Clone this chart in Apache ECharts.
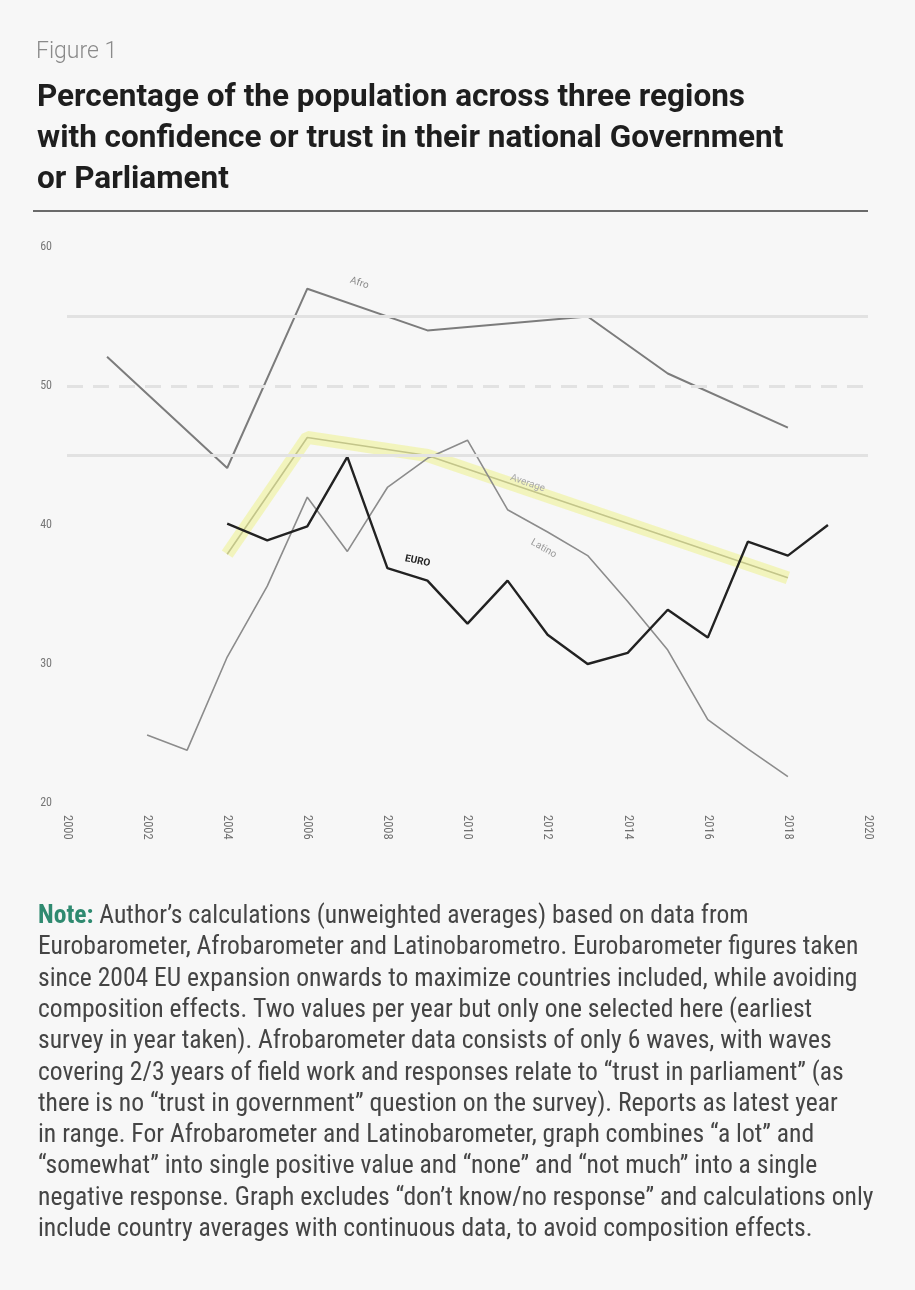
<!DOCTYPE html>
<html>
<head>
<meta charset="utf-8">
<script src="https://cdn.jsdelivr.net/npm/echarts@6/dist/echarts.min.js"></script>
<style>
html,body{margin:0;padding:0;background:#f7f7f7;}
#c{width:915px;height:1290px;}
</style>
</head>
<body>
<div id="c"></div>
<script>
// ---- data ----
const afroYears   = [2001, 2004, 2006, 2009, 2013, 2015, 2018];
const afroValues  = [52.1, 44.1, 57.0, 54.0, 55.0, 50.9, 47.0];

const euroYears   = [2004, 2005, 2006, 2007, 2008, 2009, 2010, 2011, 2012, 2013, 2014, 2015, 2016, 2017, 2018, 2019];
const euroValues  = [40.1, 38.9, 39.9, 44.9, 36.9, 36.0, 32.9, 36.0, 32.1, 30.0, 30.8, 33.9, 31.9, 38.8, 37.8, 40.0];

const latinoYears  = [2002, 2003, 2004, 2005, 2006, 2007, 2008, 2009, 2010, 2011, 2012, 2013, 2014, 2015, 2016, 2017, 2018];
const latinoValues = [24.9, 23.8, 30.5, 35.6, 42.0, 38.1, 42.7, 44.8, 46.1, 41.1, 39.5, 37.8, 34.5, 31.0, 26.0, 23.9, 21.9];

const avgYears  = [2004, 2006, 2009, 2018];
const avgValues = [37.9, 46.3, 45.0, 36.2];

const yTicks = [20, 30, 40, 50, 60];
const xTicks = [2000, 2002, 2004, 2006, 2008, 2010, 2012, 2014, 2016, 2018, 2020];

const titleLines = [
  'Percentage of the population across three regions',
  'with confidence or trust in their national Government',
  'or Parliament'
];
const noteLines = [
  'Author\u2019s calculations (unweighted averages) based on data from',
  'Eurobarometer, Afrobarometer and Latinobarometro. Eurobarometer figures taken',
  'since 2004 EU expansion onwards to maximize countries included, while avoiding',
  'composition effects. Two values per year but only one selected here (earliest',
  'survey in year taken). Afrobarometer data consists of only 6 waves, with waves',
  'covering 2/3 years of field work and responses relate to \u201ctrust in parliament\u201d (as',
  'there is no \u201ctrust in government\u201d question on the survey). Reports as latest year',
  'in range. For Afrobarometer and Latinobarometer, graph combines \u201ca lot\u201d and',
  '\u201csomewhat\u201d into single positive value and \u201cnone\u201d and \u201cnot much\u201d into a single',
  'negative response. Graph excludes \u201cdon\u2019t know/no response\u201d and calculations only',
  'include country averages with continuous data, to avoid composition effects.'
];

const pairs = (xs, ys) => xs.map((x, i) => [x, ys[i]]);
const NARROW = "'Liberation Sans Narrow', 'Roboto Condensed', 'Arial Narrow', Roboto, sans-serif";

const chart = echarts.init(document.getElementById('c'), null, {renderer: 'canvas'});

function lbl(coord, text, rot, color, weight, size) {
  return {
    coord: coord, symbol: 'circle', symbolSize: 0,
    label: {show: true, formatter: text, rotate: rot, color: color, fontWeight: weight,
            fontSize: size, fontFamily: 'Roboto, sans-serif', position: 'inside'}
  };
}

chart.setOption({
  backgroundColor: '#f7f7f7',
  animation: false,
  title: [
    {text: 'Figure 1', left: 31, top: 36,
     textStyle: {fontFamily: 'Roboto, sans-serif', fontWeight: 300, fontSize: 23, color: '#8a8a8a'}},
    {text: titleLines.join('\n'), left: 32, top: 73,
     textStyle: {fontFamily: 'Roboto, sans-serif', fontWeight: 'bold', fontSize: 31.5, lineHeight: 41, color: '#1e1e1e'}},
    {text: '{n|Note:} ' + noteLines.join('\n'), left: 33, top: 896,
     textStyle: {fontFamily: NARROW, fontWeight: 'normal', fontSize: 25.6, lineHeight: 31.3, color: '#454545',
       rich: {n: {fontFamily: NARROW, fontWeight: 'bold', fontSize: 25.6, lineHeight: 31.3, color: '#2f8a70'}}}}
  ],
  graphic: [
    {type: 'line', shape: {x1: 33, y1: 211, x2: 868, y2: 211}, style: {stroke: '#6a6a6a', lineWidth: 2}}
  ],
  grid: {left: 67, right: 47, top: 247, bottom: 487},
  xAxis: {
    type: 'value', min: 2000, max: 2020, interval: 2,
    axisLine: {show: false}, axisTick: {show: false}, splitLine: {show: false},
    axisLabel: {rotate: -90, margin: 12, fontSize: 12.5, color: '#6f6f6f', fontFamily: NARROW,
      customValues: xTicks, formatter: v => String(v)}
  },
  yAxis: {
    type: 'value', min: 20, max: 60, interval: 10,
    axisLine: {show: false}, axisTick: {show: false}, splitLine: {show: false},
    axisLabel: {margin: 15, fontSize: 12, color: '#777', fontFamily: NARROW,
      customValues: yTicks, formatter: v => String(v)}
  },
  series: [
    {
      name: 'avgGlow', type: 'line', data: pairs(avgYears, avgValues), symbol: 'none', silent: true,
      lineStyle: {color: 'rgba(240,243,170,0.75)', width: 13}, z: 1,
      markLine: {
        silent: true, symbol: 'none', label: {show: false},
        data: [
          {yAxis: 55, lineStyle: {color: '#e2e2e2', width: 3, type: 'solid'}},
          {yAxis: 50, lineStyle: {color: '#e2e2e2', width: 3, type: [16, 10]}},
          {yAxis: 45, lineStyle: {color: '#e2e2e2', width: 3, type: 'solid'}}
        ]
      }
    },
    {
      name: 'Average', type: 'line', data: pairs(avgYears, avgValues), symbol: 'none',
      lineStyle: {color: '#c3c58a', width: 1.6}, z: 2,
      markPoint: {data: [lbl([2011.5, 43.0], 'Average', -19, '#a9a9a9', 'normal', 10)]}
    },
    {
      name: 'Afro', type: 'line', data: pairs(afroYears, afroValues), symbol: 'none',
      lineStyle: {color: '#7c7c7c', width: 2}, z: 3,
      markPoint: {data: [lbl([2007.3, 57.4], 'Afro', -18, '#8a8a8a', 'normal', 10)]}
    },
    {
      name: 'Latino', type: 'line', data: pairs(latinoYears, latinoValues), symbol: 'none',
      lineStyle: {color: '#8c8c8c', width: 1.6}, z: 3,
      markPoint: {data: [lbl([2011.9, 38.3], 'Latino', -30, '#999', 'normal', 10)]}
    },
    {
      name: 'EURO', type: 'line', data: pairs(euroYears, euroValues), symbol: 'none',
      lineStyle: {color: '#222', width: 2.4}, z: 4,
      markPoint: {data: [lbl([2008.75, 37.4], 'EURO', -12, '#222', 'bold', 10)]}
    }
  ]
});
</script>
</body>
</html>
